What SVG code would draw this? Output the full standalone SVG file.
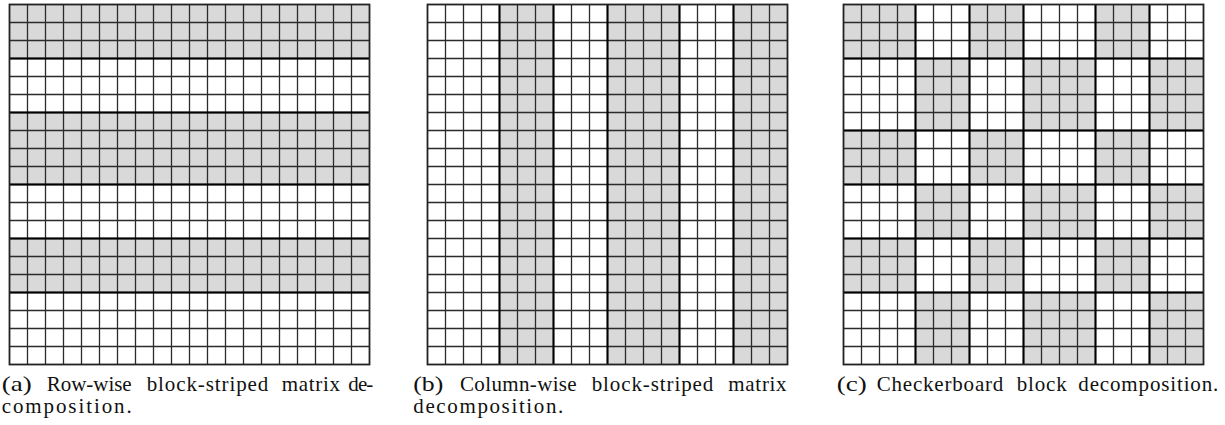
<svg xmlns="http://www.w3.org/2000/svg" width="1225" height="425" viewBox="0 0 1225 425">
<style>
.bg{fill:#ffffff}
.sh{fill:#d9d9d9;stroke:none}
.thin{fill:none;stroke:#2b2b2b;stroke-width:1.3}
.thick{fill:none;stroke:#000;stroke-width:2}
.frame{fill:none;stroke:#222;stroke-width:1.8}
.cap{font-family:"Liberation Serif","DejaVu Serif",serif;font-size:21px;fill:#111}
</style>
<rect width="1225" height="425" fill="#fff"/>
<g id="panel-a">
<rect class="sh" x="9.5" y="4.5" width="360" height="54"/>
<rect class="sh" x="9.5" y="112.5" width="360" height="72"/>
<rect class="sh" x="9.5" y="238.5" width="360" height="54"/>
<path class="thin" d="M27.5 4.5v360M45.5 4.5v360M63.5 4.5v360M81.5 4.5v360M99.5 4.5v360M117.5 4.5v360M135.5 4.5v360M153.5 4.5v360M171.5 4.5v360M189.5 4.5v360M207.5 4.5v360M225.5 4.5v360M243.5 4.5v360M261.5 4.5v360M279.5 4.5v360M297.5 4.5v360M315.5 4.5v360M333.5 4.5v360M351.5 4.5v360M9.5 22.5h360M9.5 40.5h360M9.5 58.5h360M9.5 76.5h360M9.5 94.5h360M9.5 112.5h360M9.5 130.5h360M9.5 148.5h360M9.5 166.5h360M9.5 184.5h360M9.5 202.5h360M9.5 220.5h360M9.5 238.5h360M9.5 256.5h360M9.5 274.5h360M9.5 292.5h360M9.5 310.5h360M9.5 328.5h360M9.5 346.5h360"/>
<path class="thick" d="M9.5 58.5h360M9.5 112.5h360M9.5 184.5h360M9.5 238.5h360M9.5 292.5h360"/>
<rect class="frame" x="9.5" y="4.5" width="360" height="360"/>
</g>
<g id="panel-b">
<rect class="sh" x="499.5" y="4.5" width="54" height="360"/>
<rect class="sh" x="607.5" y="4.5" width="72" height="360"/>
<rect class="sh" x="733.5" y="4.5" width="54" height="360"/>
<path class="thin" d="M445.5 4.5v360M463.5 4.5v360M481.5 4.5v360M499.5 4.5v360M517.5 4.5v360M535.5 4.5v360M553.5 4.5v360M571.5 4.5v360M589.5 4.5v360M607.5 4.5v360M625.5 4.5v360M643.5 4.5v360M661.5 4.5v360M679.5 4.5v360M697.5 4.5v360M715.5 4.5v360M733.5 4.5v360M751.5 4.5v360M769.5 4.5v360M427.5 22.5h360M427.5 40.5h360M427.5 58.5h360M427.5 76.5h360M427.5 94.5h360M427.5 112.5h360M427.5 130.5h360M427.5 148.5h360M427.5 166.5h360M427.5 184.5h360M427.5 202.5h360M427.5 220.5h360M427.5 238.5h360M427.5 256.5h360M427.5 274.5h360M427.5 292.5h360M427.5 310.5h360M427.5 328.5h360M427.5 346.5h360"/>
<path class="thick" d="M499.5 4.5v360M553.5 4.5v360M607.5 4.5v360M679.5 4.5v360M733.5 4.5v360"/>
<rect class="frame" x="427.5" y="4.5" width="360" height="360"/>
</g>
<g id="panel-c">
<rect class="sh" x="843.5" y="4.5" width="72" height="54"/>
<rect class="sh" x="969.5" y="4.5" width="54" height="54"/>
<rect class="sh" x="1095.5" y="4.5" width="54" height="54"/>
<rect class="sh" x="915.5" y="58.5" width="54" height="72"/>
<rect class="sh" x="1023.5" y="58.5" width="72" height="72"/>
<rect class="sh" x="1149.5" y="58.5" width="54" height="72"/>
<rect class="sh" x="843.5" y="130.5" width="72" height="54"/>
<rect class="sh" x="969.5" y="130.5" width="54" height="54"/>
<rect class="sh" x="1095.5" y="130.5" width="54" height="54"/>
<rect class="sh" x="915.5" y="184.5" width="54" height="54"/>
<rect class="sh" x="1023.5" y="184.5" width="72" height="54"/>
<rect class="sh" x="1149.5" y="184.5" width="54" height="54"/>
<rect class="sh" x="843.5" y="238.5" width="72" height="54"/>
<rect class="sh" x="969.5" y="238.5" width="54" height="54"/>
<rect class="sh" x="1095.5" y="238.5" width="54" height="54"/>
<rect class="sh" x="915.5" y="292.5" width="54" height="72"/>
<rect class="sh" x="1023.5" y="292.5" width="72" height="72"/>
<rect class="sh" x="1149.5" y="292.5" width="54" height="72"/>
<path class="thin" d="M861.5 4.5v360M879.5 4.5v360M897.5 4.5v360M915.5 4.5v360M933.5 4.5v360M951.5 4.5v360M969.5 4.5v360M987.5 4.5v360M1005.5 4.5v360M1023.5 4.5v360M1041.5 4.5v360M1059.5 4.5v360M1077.5 4.5v360M1095.5 4.5v360M1113.5 4.5v360M1131.5 4.5v360M1149.5 4.5v360M1167.5 4.5v360M1185.5 4.5v360M843.5 22.5h360M843.5 40.5h360M843.5 58.5h360M843.5 76.5h360M843.5 94.5h360M843.5 112.5h360M843.5 130.5h360M843.5 148.5h360M843.5 166.5h360M843.5 184.5h360M843.5 202.5h360M843.5 220.5h360M843.5 238.5h360M843.5 256.5h360M843.5 274.5h360M843.5 292.5h360M843.5 310.5h360M843.5 328.5h360M843.5 346.5h360"/>
<path class="thick" d="M915.5 4.5v360M969.5 4.5v360M1023.5 4.5v360M1095.5 4.5v360M1149.5 4.5v360M843.5 58.5h360M843.5 130.5h360M843.5 184.5h360M843.5 238.5h360M843.5 292.5h360"/>
<rect class="frame" x="843.5" y="4.5" width="360" height="360"/>
</g>
<g id="caption-a" class="cap">
<text x="1.7" y="391" textLength="30" lengthAdjust="spacingAndGlyphs">(a)</text>
<text x="46.7" y="391" textLength="85" lengthAdjust="spacing">Row-wise</text>
<text x="146.7" y="391" textLength="121.6" lengthAdjust="spacing">block-striped</text>
<text x="281.7" y="391" textLength="58.3" lengthAdjust="spacing">matrix</text>
<text x="348.3" y="391" textLength="25" lengthAdjust="spacing">de-</text>
<text x="1.7" y="413" textLength="130" lengthAdjust="spacing">composition.</text>
</g>
<g id="caption-b" class="cap">
<text x="413.3" y="391" textLength="30" lengthAdjust="spacingAndGlyphs">(b)</text>
<text x="460" y="391" textLength="116.7" lengthAdjust="spacing">Column-wise</text>
<text x="591.7" y="391" textLength="121.6" lengthAdjust="spacing">block-striped</text>
<text x="728.3" y="391" textLength="58.3" lengthAdjust="spacing">matrix</text>
<text x="413.3" y="413" textLength="150" lengthAdjust="spacing">decomposition.</text>
</g>
<g id="caption-c" class="cap">
<text x="836.7" y="391" textLength="30" lengthAdjust="spacingAndGlyphs">(c)</text>
<text x="876.7" y="391" textLength="126.6" lengthAdjust="spacing">Checkerboard</text>
<text x="1016.7" y="391" textLength="50" lengthAdjust="spacing">block</text>
<text x="1078.3" y="391" textLength="140" lengthAdjust="spacing">decomposition.</text>
</g>
</svg>
